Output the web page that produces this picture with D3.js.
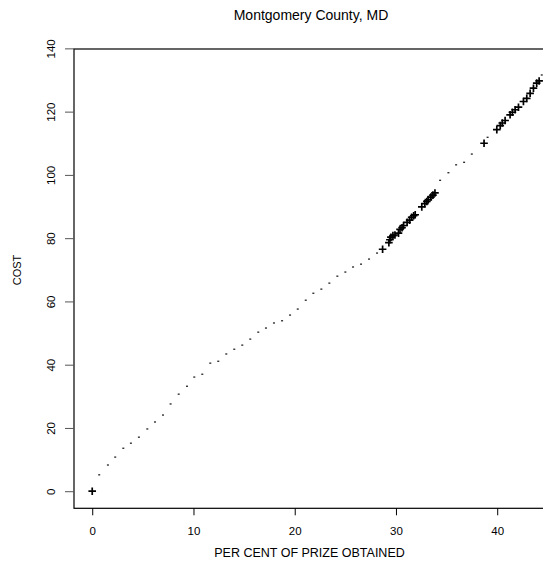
<!DOCTYPE html>
<html>
<head>
  <meta charset="utf-8">
  <title>Montgomery County, MD</title>
  <style>
    body { margin: 0; background: #fff; }
    text { font-family: "Liberation Sans", Arial, sans-serif; fill: #000; }
  </style>
</head>
<body>
  <script src="https://cdn.jsdelivr.net/npm/d3@7"></script>
  <script type="text/javascript">
    // small points (pch ".")
    var dotX = [0.69, 1.55, 2.27, 3.07, 3.82, 4.61, 5.44, 6.2, 6.99, 7.74, 8.54, 9.36, 10.08, 10.87,
                11.66, 12.45, 13.24, 14.03, 14.82, 15.61, 16.4, 17.16, 17.95, 18.75, 19.54, 20.3,
                21.09, 21.84, 22.63, 23.42, 24.21, 25.0, 25.76, 26.55, 27.34, 28.13,
                34.36, 35.18, 35.94, 36.73, 37.49, 39.05, 44.4];
    var dotY = [5.2, 8.3, 10.8, 13.6, 15.2, 17.1, 19.7, 21.9, 24.1, 27.6, 30.7, 33.2, 36.1, 37.0,
                40.5, 41.1, 43.4, 44.9, 46.2, 48.1, 50.3, 51.6, 53.2, 53.9, 55.7, 57.6,
                60.4, 62.6, 63.9, 65.8, 68.0, 69.3, 70.9, 71.8, 73.4, 75.3,
                98.3, 100.7, 103.2, 104.0, 106.6, 111.9, 131.6];

    // plus markers
    var plusX = [0, 28.68, 29.3, 29.4, 29.5, 29.7, 29.9, 30.25, 30.4, 30.6, 30.75, 31.1, 31.35, 31.55,
                 31.75, 31.9, 32.55, 32.85, 33.05, 33.2, 33.45, 33.65, 33.85,
                 38.7, 39.96, 40.3, 40.5, 40.78, 41.27, 41.5, 41.77, 42.1, 42.59, 42.92, 43.25,
                 43.58, 43.9, 44.14];
    var plusY = [0, 76.5, 78.6, 79.5, 80.3, 80.8, 81.0, 81.6, 82.8, 83.3, 84.0, 85.0, 85.7, 86.6,
                 87.1, 87.4, 89.9, 90.9, 91.6, 92.2, 93.0, 93.6, 94.3,
                 110.0, 114.3, 115.6, 116.4, 117.2, 119.0, 119.8, 120.6, 121.4, 123.2, 124.2, 125.8,
                 127.4, 129.0, 129.7];

    var xTicks = [0, 10, 20, 30, 40];
    var yTicks = [0, 20, 40, 60, 80, 100, 120, 140];

    var W = 543, H = 561;
    var box = {left: 74, right: 561, top: 49, bottom: 508.3};

    var svg = d3.select("body").append("svg")
      .attr("width", W)
      .attr("height", H);

    var x = d3.scaleLinear().domain([-1.8, 46.3]).range([box.left, box.right]);
    var y = d3.scaleLinear().domain([-5.4, 139.8]).range([box.bottom, box.top]);

    // frame
    svg.append("rect")
      .attr("x", box.left).attr("y", box.top)
      .attr("width", box.right - box.left).attr("height", box.bottom - box.top)
      .attr("fill", "none").attr("stroke", "#000").attr("stroke-width", 1.2);

    // x axis
    var xAxis = svg.append("g")
      .attr("transform", "translate(0," + box.bottom + ")")
      .call(d3.axisBottom(x).tickValues(xTicks).tickSize(7).tickPadding(12).tickFormat(d3.format("d")));
    xAxis.select(".domain").remove();
    xAxis.selectAll("text").attr("font-size", 11.5).attr("font-family", "Liberation Sans, Arial, sans-serif");

    // y axis (rotated labels)
    var yAxis = svg.append("g")
      .attr("transform", "translate(" + box.left + ",0)")
      .call(d3.axisLeft(y).tickValues(yTicks).tickSize(9).tickFormat(d3.format("d")));
    yAxis.select(".domain").remove();
    yAxis.selectAll(".tick line").attr("stroke", "#555");
    yAxis.selectAll(".tick text")
      .attr("font-size", 11.5)
      .attr("font-family", "Liberation Sans, Arial, sans-serif")
      .attr("x", 0).attr("dy", 0)
      .attr("text-anchor", "middle")
      .attr("transform", "translate(-19,0) rotate(-90)");

    // dots
    svg.append("g").selectAll("rect")
      .data(dotX.map(function(d, i) { return [d, dotY[i]]; }))
      .enter().append("rect")
      .attr("x", function(d) { return x(d[0]) - 1; })
      .attr("y", function(d) { return y(d[1]) - 0.6; })
      .attr("width", 2).attr("height", 1.3)
      .attr("fill", "#222");

    // plus markers
    svg.append("g").selectAll("path")
      .data(plusX.map(function(d, i) { return [d, plusY[i]]; }))
      .enter().append("path")
      .attr("d", function(d) {
        var cx = x(d[0]), cy = y(d[1]), r = 3.8;
        return "M" + (cx - r) + "," + cy + "H" + (cx + r) + "M" + cx + "," + (cy - r) + "V" + (cy + r);
      })
      .attr("stroke", "#000").attr("stroke-width", 1.7).attr("fill", "none");

    // titles
    svg.append("text")
      .attr("x", 311).attr("y", 20)
      .attr("text-anchor", "middle").attr("font-size", 14)
      .text("Montgomery County, MD");

    svg.append("text")
      .attr("x", 309.5).attr("y", 556.5)
      .attr("text-anchor", "middle").attr("font-size", 12.5)
      .text("PER CENT OF PRIZE OBTAINED");

    svg.append("text")
      .attr("transform", "translate(21,270) rotate(-90)")
      .attr("text-anchor", "middle").attr("font-size", 11)
      .text("COST");
  </script>
</body>
</html>
